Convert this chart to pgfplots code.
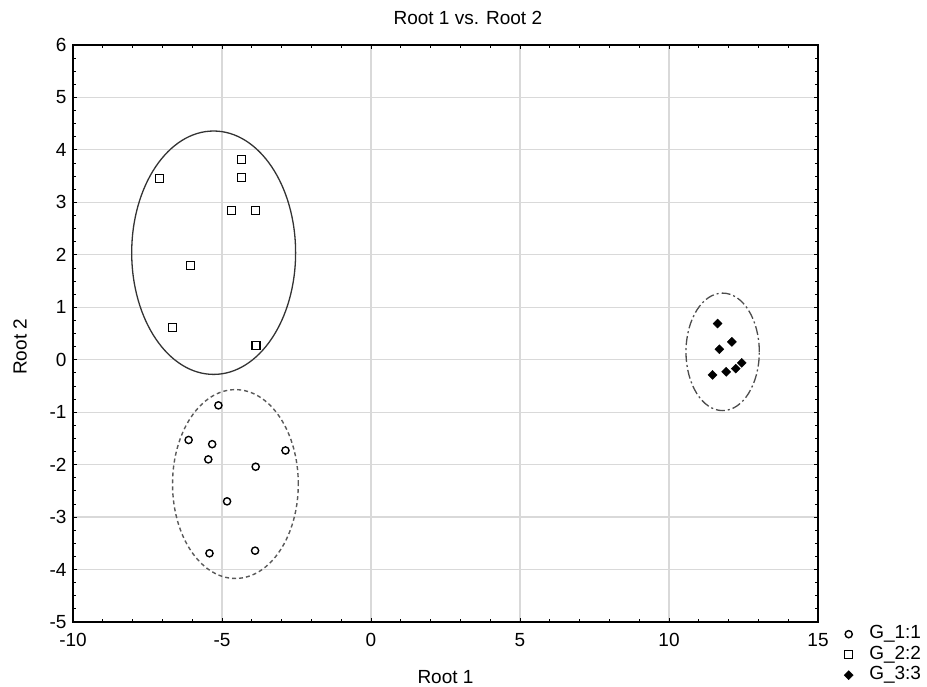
\documentclass[border=0pt]{standalone}
\usepackage{pgfplots}
\pgfplotsset{compat=1.18}
\usepackage{fontspec}
\setmainfont{Liberation Sans}
\pgfplotstableread{
x y
-5.12 -0.87
-6.12 -1.53
-5.33 -1.61
-5.46 -1.90
-2.87 -1.73
-3.87 -2.04
-4.83 -2.70
-5.42 -3.69
-3.89 -3.64
}\gone
\pgfplotstableread{
x y
-7.11 3.45
-4.36 3.81
-4.36 3.47
-4.68 2.84
-3.89 2.84
-6.07 1.79
-6.66 0.61
-3.86 0.27
}\gtwo
\pgfplotstableread{
x y
11.63 0.69
12.11 0.34
11.69 0.20
12.44 -0.06
12.24 -0.17
11.92 -0.23
11.46 -0.29
}\gthree
\begin{document}
\begin{tikzpicture}
\begin{axis}[
  scale only axis, width=745pt, height=577pt,
  xmin=-10, xmax=15, ymin=-5, ymax=6,
  xtick={-10,-5,...,15}, ytick={-5,-4,...,6},
  minor x tick num=4, minor y tick num=3,
  tick align=inside, major tick length=4pt, minor tick length=3pt,
  every tick/.style={black, line width=0.8pt},
  grid=major, major grid style={black!15, line width=1.2pt},
  axis line style={line width=1.3pt},
  font=\fontsize{19}{22}\selectfont,
  ticklabel style={font=\fontsize{19}{22}\selectfont},
  /pgf/number format/assume math mode=true,
  yticklabel style={xshift=-3pt},
  xticklabel style={yshift=-8pt},
  title={Root 1 vs. Root 2},
  title style={at={(axis description cs:0.53,1.036)}, anchor=center, font=\fontsize{19}{22}\selectfont},
  xlabel={Root 1},
  xlabel style={at={(axis description cs:0.5,-0.0953)}, anchor=center},
  ylabel={Root 2},
  ylabel style={at={(axis description cs:-0.0711,0.477)}, anchor=center},
  legend style={at={(axis description cs:1,0)}, anchor=north west, xshift=26pt, yshift=-2pt,
    draw=none, fill=none, inner sep=0pt, row sep=0.5pt, column sep=15pt,
    nodes={inner xsep=1pt, inner ysep=1pt, text height=13.5pt, text depth=4.5pt},
    font=\fontsize{19}{22}\selectfont},
  legend cell align=left,
]
\addplot[only marks, mark=o, mark size=3.6pt, mark options={black, fill=white, line width=1.4pt}] table[x=x,y=y] {\gone};
\addlegendentry{G\_1:1}
\addplot[only marks, mark=square, mark size=4pt, mark options={black, fill=white, line width=1.1pt}] table[x=x,y=y] {\gtwo};
\addlegendentry{G\_2:2}
\addplot[only marks, mark=square*, mark size=3.2pt, mark options={black, fill=black, rotate=45}] table[x=x,y=y] {\gthree};
\addlegendentry{G\_3:3}
\draw[black!80, line width=1.3pt] (axis cs:-5.28,2.04) ellipse [x radius=2.75, y radius=2.32];
\draw[black!65, line width=1.4pt, dash pattern=on 4pt off 3pt] (axis cs:-4.55,-2.37) ellipse [x radius=2.11, y radius=1.80];
\draw[black!70, line width=1.3pt, dash pattern=on 9pt off 3pt on 2pt off 3pt] (axis cs:11.80,0.15) ellipse [x radius=1.23, y radius=1.12];
\end{axis}
\path (-73pt,-64pt) rectangle (854pt,622pt);
\end{tikzpicture}
\end{document}
